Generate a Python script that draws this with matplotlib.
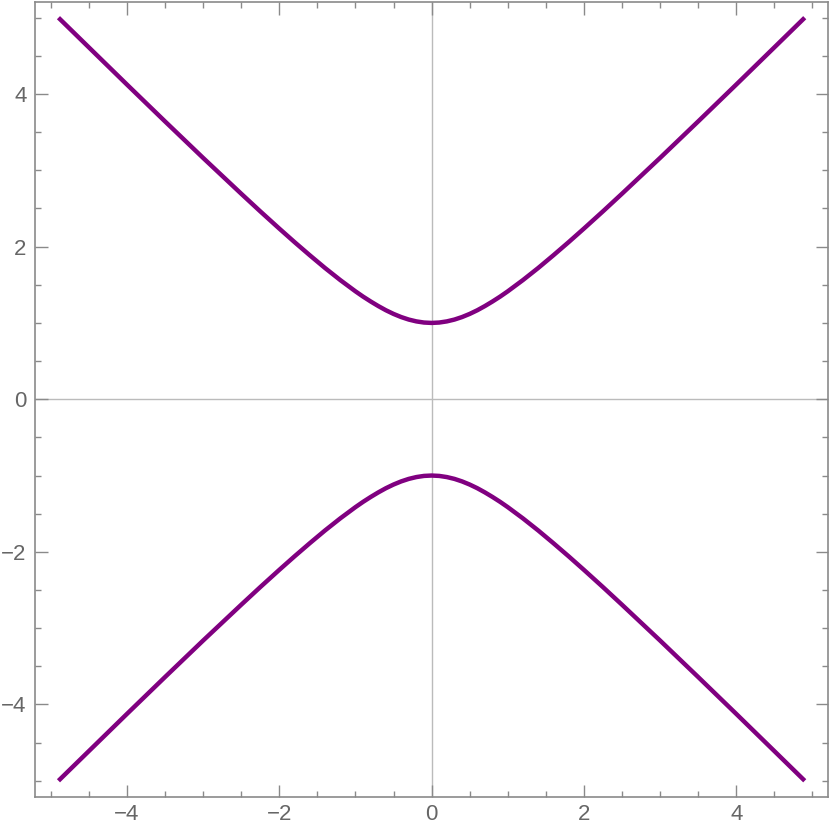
import matplotlib
matplotlib.use("Agg")
import matplotlib.pyplot as plt
from matplotlib.ticker import MultipleLocator

# Right half of the curve; left half is the mirror
x_right = [0.0, 0.1, 0.2, 0.3, 0.4, 0.5, 0.6, 0.7, 0.8, 0.9, 1.0, 1.2, 1.4, 1.6, 1.8,
           2.0, 2.25, 2.5, 3.0, 3.5, 4.0, 4.5, 4.9]
y_upper_right = [1.000, 1.005, 1.020, 1.044, 1.077, 1.118, 1.166, 1.221, 1.281, 1.345, 1.414,
                 1.562, 1.720, 1.887, 2.059, 2.236, 2.462, 2.693, 3.162, 3.640, 4.123, 4.610, 5.000]
y_lower_right = [-1.000, -1.005, -1.020, -1.044, -1.077, -1.118, -1.166, -1.221, -1.281, -1.345, -1.414,
                 -1.562, -1.720, -1.887, -2.059, -2.236, -2.462, -2.693, -3.162, -3.640, -4.123, -4.610, -5.000]

x_full = [-v for v in x_right[::-1]] + x_right[1:]
y_upper = y_upper_right[::-1] + y_upper_right[1:]
y_lower = y_lower_right[::-1] + y_lower_right[1:]

major_ticks = [-4, -2, 0, 2, 4]
tick_labels = ["\u22124", "\u22122", "0", "2", "4"]

fig = plt.figure(figsize=(8.3, 8.3), dpi=100)
ax = fig.add_axes([0.042, 0.040, 0.956, 0.958])

ax.axhline(0, color="#bbbbbb", lw=1.0, zorder=1)
ax.axvline(0, color="#bbbbbb", lw=1.0, zorder=1)

curve_color = "#800080"
ax.plot(x_full, y_upper, color=curve_color, lw=3.2, solid_capstyle="butt", solid_joinstyle="round", zorder=3)
ax.plot(x_full, y_lower, color=curve_color, lw=3.2, solid_capstyle="butt", solid_joinstyle="round", zorder=3)

ax.set_xlim(-5.21, 5.21)
ax.set_ylim(-5.21, 5.21)

ax.set_xticks(major_ticks)
ax.set_xticklabels(tick_labels)
ax.set_yticks(major_ticks)
ax.set_yticklabels(tick_labels)
ax.xaxis.set_minor_locator(MultipleLocator(0.5))
ax.yaxis.set_minor_locator(MultipleLocator(0.5))

frame_color = "#8a8a8a"
for s in ax.spines.values():
    s.set_color(frame_color)
    s.set_linewidth(1.2)

ax.tick_params(which="both", direction="in", top=True, right=True, color=frame_color, width=1.0)
ax.tick_params(which="major", length=9, labelsize=16, labelcolor="#666666")
ax.tick_params(axis="y", which="major", pad=6)
ax.tick_params(axis="x", which="major", pad=5)
ax.tick_params(which="minor", length=4.5)
for lab in ax.get_xticklabels() + ax.get_yticklabels():
    lab.set_family(["Liberation Sans", "DejaVu Sans"])

fig.savefig("out.png", dpi=100)
